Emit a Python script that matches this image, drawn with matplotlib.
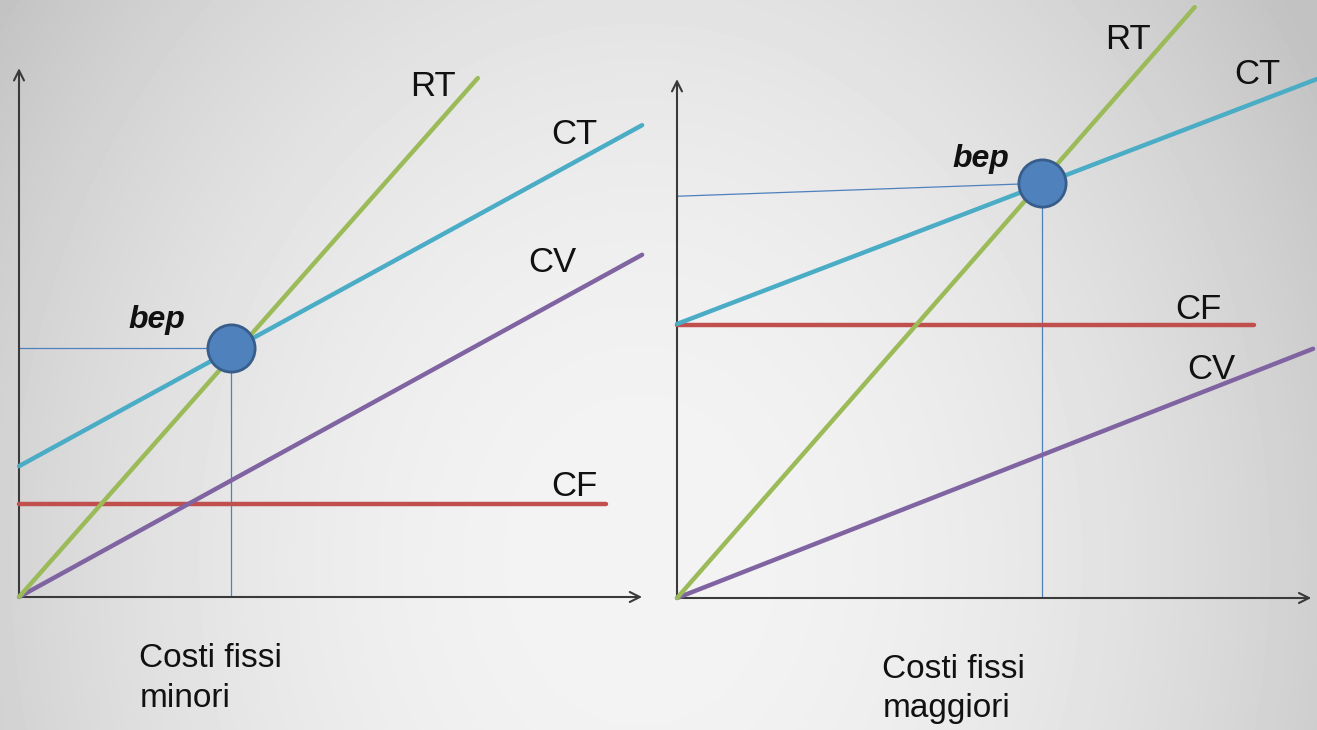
import numpy as np
import matplotlib
matplotlib.use("Agg")
import matplotlib.pyplot as plt

plt.rcParams['font.family'] = ['Liberation Sans', 'DejaVu Sans']

# Colours of the break-even diagram
GREEN = '#9BBB59'
CYAN = '#4BACC6'
PURPLE = '#8064A2'
RED = '#C0504D'
BLUE = '#4F81BD'
BLUE_EDGE = '#385D8A'
AXIS = '#3a3a3a'

# --- low fixed costs (left) ---
axis_len_l = (10.05, 8.53)
rt_l_x, rt_l_y = [0, 7.40], [0, 8.37]
ct_l_x, ct_l_y = [0, 10.05], [2.11, 7.61]
cv_l_x, cv_l_y = [0, 10.05], [0, 5.52]
cf_l_x, cf_l_y = [0, 9.47], [1.50, 1.50]
bep_l = (3.42, 4.02)
ref_l_y0 = 4.02
labels_l = {'RT': (6.31, 8.08), 'CT': (8.58, 7.31), 'CV': (8.21, 5.24), 'CF': (8.58, 1.63)}
bep_lab_l = (1.76, 4.34)
caption_l = 'Costi fissi\nminori'

# --- high fixed costs (right) ---
axis_len_r = (10.23, 8.37)
rt_r_x, rt_r_y = [0, 8.35], [0, 9.53]
ct_r_x, ct_r_y = [0, 10.32], [4.42, 8.37]
cv_r_x, cv_r_y = [0, 10.26], [0, 4.02]
cf_r_x, cf_r_y = [0, 9.31], [4.40, 4.40]
bep_r = (5.89, 6.69)
ref_r_y0 = 6.48
labels_r = {'RT': (6.90, 8.85), 'CT': (8.98, 8.29), 'CF': (8.03, 4.50), 'CV': (8.23, 3.53)}
bep_lab_r = (4.45, 6.95)
caption_r = 'Costi fissi\nmaggiori'

W, H = 1317, 730
PX = 62.0  # pixels per data unit

fig = plt.figure(figsize=(W / 100, H / 100), dpi=100)

# soft radial grey background, brightest low in the middle
bg = fig.add_axes([0, 0, 1, 1], zorder=-10)
yy, xx = np.mgrid[0:H, 0:W]
r2 = ((xx - 640) / 740.0) ** 2 + ((yy - 560) / 900.0) ** 2
shade = np.clip(0.955 - 0.17 * r2, 0.76, 1.0)
bg.imshow(shade, cmap='gray', vmin=0, vmax=1, aspect='auto', interpolation='bilinear')
bg.axis('off')


def make_panel(ox, oy, width_px):
    ax = fig.add_axes([ox / W, (H - oy) / H, width_px / W, oy / H])
    ax.set_xlim(0, width_px / PX)
    ax.set_ylim(0, oy / PX)
    ax.axis('off')
    ax.patch.set_alpha(0)
    return ax


def draw_panel(ax, axis_len, rt, ct, cv, cf, bep, ref_y0, labels, bep_lab, caption, cap_xy):
    arrow = dict(arrowstyle='->', lw=1.5, color=AXIS, mutation_scale=18, shrinkA=0, shrinkB=0)
    ax.annotate('', xy=(axis_len[0], 0), xytext=(0, 0), arrowprops=arrow, annotation_clip=False)
    ax.annotate('', xy=(0, axis_len[1]), xytext=(0, 0), arrowprops=arrow, annotation_clip=False)

    # guide lines to the break-even point
    ax.plot([0, bep[0]], [ref_y0, bep[1]], color=BLUE, lw=0.9, zorder=2)
    ax.plot([bep[0], bep[0]], [0, bep[1]], color=BLUE, lw=0.9, zorder=2)

    ax.plot(cf[0], cf[1], color=RED, lw=3.2, solid_capstyle='round', zorder=3, clip_on=False)
    ax.plot(cv[0], cv[1], color=PURPLE, lw=3.2, solid_capstyle='round', zorder=3, clip_on=False)
    ax.plot(ct[0], ct[1], color=CYAN, lw=3.2, solid_capstyle='round', zorder=3, clip_on=False)
    ax.plot(rt[0], rt[1], color=GREEN, lw=3.2, solid_capstyle='round', zorder=4, clip_on=False)

    ax.plot([bep[0]], [bep[1]], 'o', ms=34, mfc=BLUE, mec=BLUE_EDGE, mew=2, zorder=5)

    for name, (x, y) in labels.items():
        ax.text(x, y, name, fontsize=25, color='#111111', va='baseline', ha='left')
    ax.text(bep_lab[0], bep_lab[1], 'bep', fontsize=23, fontweight='bold', fontstyle='italic',
            color='#111111', va='baseline', ha='left')
    ax.text(cap_xy[0], cap_xy[1], caption, fontsize=24, color='#111111',
            va='baseline', ha='left', linespacing=1.35)


ax_l = make_panel(19, 597, 641)
draw_panel(ax_l, axis_len_l, (rt_l_x, rt_l_y), (ct_l_x, ct_l_y), (cv_l_x, cv_l_y),
           (cf_l_x, cf_l_y), bep_l, ref_l_y0, labels_l, bep_lab_l, caption_l, (1.94, -1.77))

ax_r = make_panel(677, 598, 640)
draw_panel(ax_r, axis_len_r, (rt_r_x, rt_r_y), (ct_r_x, ct_r_y), (cv_r_x, cv_r_y),
           (cf_r_x, cf_r_y), bep_r, ref_r_y0, labels_r, bep_lab_r, caption_r, (3.31, -1.92))

fig.savefig('out.png', dpi=100)
